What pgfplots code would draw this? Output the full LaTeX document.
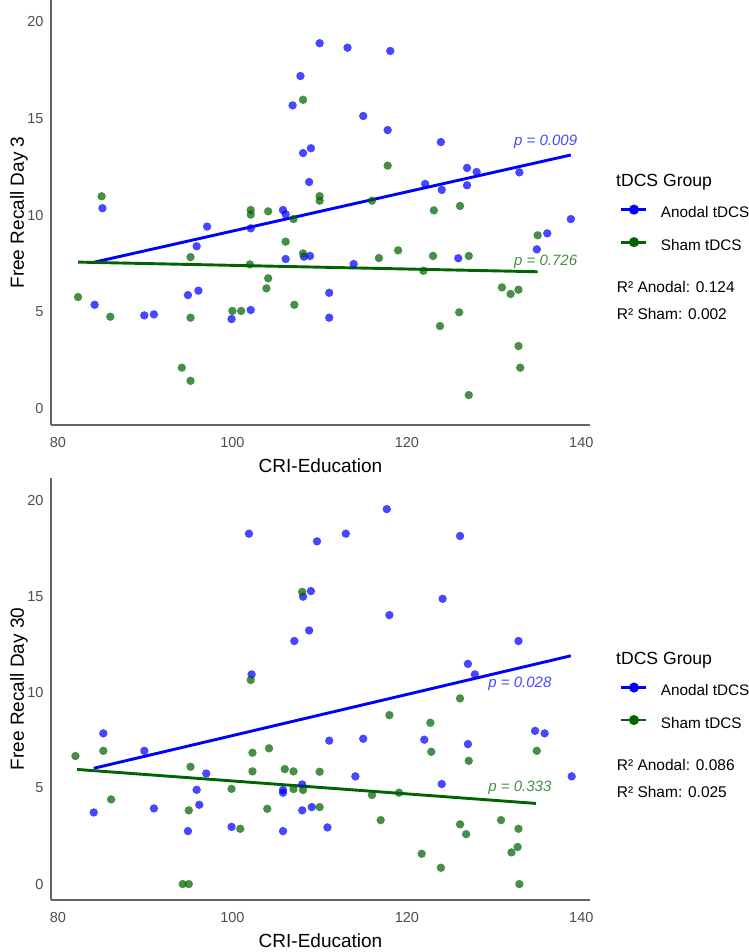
\documentclass[border=0pt]{standalone}
\usepackage{fontspec}
\setmainfont{Liberation Sans}
\usepackage{pgfplots}
\pgfplotsset{compat=1.18}
\definecolor{anod}{RGB}{0,0,255}
\definecolor{sham}{RGB}{0,100,0}
\definecolor{ticktxt}{RGB}{77,77,77}
\pgfplotsset{
  rstyle/.style={
    scale only axis, width=539bp,
    xmin=79.2, xmax=141,
    axis lines=left, axis line style={-, draw=black!60, line width=1.2bp},
    xtick={80,100,120,140}, ytick={0,5,10,15,20},
    major tick length=0pt,
    tick label style={font=\fontsize{14.5bp}{17bp}\selectfont, text=ticktxt},
    xticklabel style={yshift=-9bp},
    yticklabel style={xshift=-4bp},
    /pgf/number format/assume math mode=true,
    label style={font=\fontsize{19bp}{22bp}\selectfont},
    xlabel style={at={([yshift=-41bp]axis description cs:0.5,0)}, anchor=center},
    ylabel style={at={([xshift=-32bp]axis description cs:0,0.5)}, anchor=center},
    xlabel={CRI-Education},
    clip=false,
    legend style={anchor=north west, draw=none, fill=none,
      inner sep=0pt, outer sep=0pt, row sep=18bp, column sep=13bp,
      font=\fontsize{15.3bp}{18bp}\selectfont,
      nodes={inner sep=0pt, text height=11bp, text depth=3bp}},
    legend cell align=left,
    legend image code/.code={\draw[mark repeat=2, mark phase=2, #1] plot coordinates {(0bp,4bp) (12.5bp,4bp) (25bp,4bp)};},
  },
  pts/.style={only marks, mark=*, mark size=4.2bp, forget plot, color=#1,
    mark options={solid, fill=#1, draw=#1, fill opacity=0.72, draw opacity=0}},
  fitln/.style={#1, line width=2.9bp, forget plot},
  keyimg/.style={#1, line width=2.9bp, mark=*, mark size=3.5bp},
}
\begin{document}
\begin{tikzpicture}
\useasboundingbox (0,0) rectangle (749bp,-952bp);
% ---------------- top panel ----------------
\begin{axis}[rstyle, at={(51bp,-425bp)}, anchor=south west, height=425bp,
  ymin=-0.88, ymax=21.14, ylabel={Free Recall Day 3},
  legend style={at={(rel axis cs:1.0557,0.515)}}]
\addplot[pts=anod] table {
84.2 5.35
85.1 10.35
89.9 4.8
91.0 4.85
94.9 5.85
95.9 8.38
96.1 6.08
97.1 9.4
99.9 4.61
102.1 5.08
102.1 9.31
105.8 10.26
106.1 10.04
106.1 7.72
106.9 15.68
107.8 17.2
108.1 13.21
109.0 13.46
108.8 11.71
108.2 7.84
108.9 7.88
110.0 18.9
111.1 5.97
111.1 4.68
113.2 18.67
113.9 7.46
115.0 15.13
117.8 14.4
118.1 18.5
122.1 11.61
123.9 13.78
124.0 11.3
125.9 7.76
126.9 12.44
126.9 11.54
128.0 12.23
132.9 12.21
134.9 8.22
136.1 9.05
138.8 9.79
};
\addplot[pts=sham] table {
82.3 5.75
85.0 10.97
86.0 4.73
94.2 2.09
95.2 1.41
95.2 4.68
95.2 7.82
100.0 5.03
101.0 5.03
102.0 7.44
102.1 10.26
102.1 10.02
103.9 6.2
104.1 6.72
104.1 10.19
106.1 8.62
107.0 9.79
107.1 5.35
108.1 8.01
108.1 15.97
110.0 10.98
110.0 10.74
116.0 10.74
116.8 7.77
117.8 12.56
119.0 8.17
121.9 7.11
123.0 7.88
123.1 10.24
123.8 4.25
126.0 4.96
126.1 10.47
127.1 7.88
127.1 0.67
130.9 6.25
131.9 5.91
132.8 6.13
132.8 3.21
133.0 2.09
135.0 8.95
};
\addplot[fitln=anod] coordinates {(84.2,7.56) (138.8,13.11)};
\addplot[fitln=sham] coordinates {(82.3,7.56) (135.0,7.06)};
\addlegendimage{keyimg=anod}
\addlegendentry{Anodal tDCS}
\addlegendimage{keyimg=sham}
\addlegendentry{Sham tDCS}
\node[anchor=east, inner sep=0pt, text=anod!72!white, font=\fontsize{15bp}{18bp}\selectfont\itshape] at (axis cs:139.55,13.8) {p = 0.009};
\node[anchor=east, inner sep=0pt, text=sham!72!white, font=\fontsize{15bp}{18bp}\selectfont\itshape] at (axis cs:139.55,7.58) {p = 0.726};
\node[anchor=west, inner sep=0pt, font=\fontsize{17.6bp}{20bp}\selectfont] at (rel axis cs:1.0482,0.572) {tDCS Group};
\node[anchor=west, inner sep=0pt, font=\fontsize{15.5bp}{18bp}\selectfont] at (rel axis cs:1.0495,0.3254) {R² Anodal: 0.124};
\node[anchor=west, inner sep=0pt, font=\fontsize{15.5bp}{18bp}\selectfont] at (rel axis cs:1.0495,0.2612) {R² Sham: 0.002};
\end{axis}
% ---------------- bottom panel ----------------
\begin{axis}[rstyle, at={(51bp,-900bp)}, anchor=south west, height=422bp,
  ymin=-0.83, ymax=21.15, ylabel={Free Recall Day 30},
  legend style={at={(rel axis cs:1.0557,0.5118)}}]
\addplot[pts=anod] table {
84.1 3.73
85.2 7.85
89.9 6.94
91.0 3.94
94.9 2.76
95.9 4.91
96.2 4.13
97.0 5.76
99.9 2.98
101.9 18.25
102.2 10.92
105.8 2.76
105.8 4.9
105.8 4.76
107.1 12.66
108.0 5.19
108.0 3.84
108.1 14.97
108.8 13.21
109.0 15.26
109.1 4.01
109.7 17.85
110.9 2.95
111.1 7.47
113.0 18.25
114.1 5.61
115.0 7.57
117.7 19.53
118.0 14.01
122.0 7.52
124.0 5.21
124.1 14.86
126.1 18.13
127.0 11.47
127.0 7.29
127.8 10.92
132.8 12.66
134.7 7.98
135.8 7.85
138.9 5.61
};
\addplot[pts=sham] table {
82.0 6.67
85.2 6.94
86.1 4.41
94.3 0
95.0 0
95.0 3.84
95.2 6.11
99.9 4.96
100.9 2.88
102.1 10.63
102.3 6.84
102.3 5.87
104.0 3.92
104.2 7.07
106.0 5.99
107.0 5.87
107.0 4.95
108.0 15.22
108.1 4.9
110.0 5.85
110.0 4.01
116.0 4.64
117.0 3.33
118.0 8.8
119.1 4.76
121.7 1.58
122.7 8.4
122.8 6.89
123.9 0.85
126.1 9.67
126.1 3.11
126.8 2.6
127.1 6.42
130.8 3.33
132.0 1.65
132.7 1.93
132.8 2.88
132.9 0
134.9 6.94
};
\addplot[fitln=anod] coordinates {(84.1,6.03) (138.8,11.89)};
\addplot[fitln=sham] coordinates {(82.2,5.97) (134.8,4.2)};
\addlegendimage{keyimg=anod}
\addlegendentry{Anodal tDCS}
\addlegendimage{keyimg=sham}
\addlegendentry{Sham tDCS}
\node[anchor=east, inner sep=0pt, text=anod!72!white, font=\fontsize{15bp}{18bp}\selectfont\itshape] at (axis cs:136.6,10.45) {p = 0.028};
\node[anchor=east, inner sep=0pt, text=sham!72!white, font=\fontsize{15bp}{18bp}\selectfont\itshape] at (axis cs:136.6,5.02) {p = 0.333};
\node[anchor=west, inner sep=0pt, font=\fontsize{17.6bp}{20bp}\selectfont] at (rel axis cs:1.0482,0.569) {tDCS Group};
\node[anchor=west, inner sep=0pt, font=\fontsize{15.5bp}{18bp}\selectfont] at (rel axis cs:1.0495,0.3206) {R² Anodal: 0.086};
\node[anchor=west, inner sep=0pt, font=\fontsize{15.5bp}{18bp}\selectfont] at (rel axis cs:1.0495,0.2559) {R² Sham: 0.025};
\end{axis}
\end{tikzpicture}
\end{document}
